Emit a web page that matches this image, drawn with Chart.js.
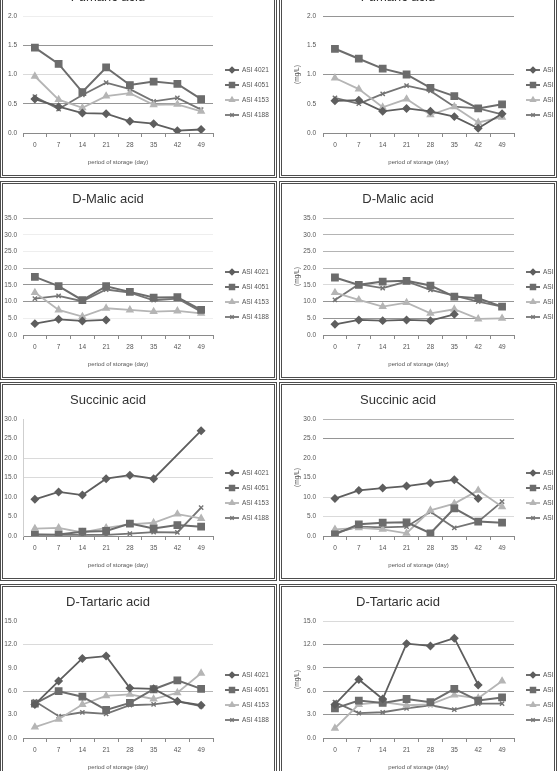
<!DOCTYPE html>
<html>
<head>
<meta charset="utf-8">
<script src="https://cdn.jsdelivr.net/npm/chart.js@4.4.1/dist/chart.umd.min.js"></script>
<style>
  html, body { margin: 0; padding: 0; background: #fff; }
  #page { position: relative; width: 557px; height: 771px; overflow: hidden; background: #fff; }
  .panel { position: absolute; border: 3px double #4d4d4d; background: #fff; overflow: hidden; }
  .panel canvas { display: block; }
</style>
</head>
<body>
<div id="page"></div>
<script>
// categories + legend
const days = ['0', '7', '14', '21', '28', '35', '42', '49'];
const strains = ['ASI 4021', 'ASI 4051', 'ASI 4153', 'ASI 4188'];

// values, one row per strain (same order as strains)
const fumaricLeft = [
  [0.58, 0.45, 0.34, 0.33, 0.20, 0.16, 0.04, 0.06],
  [1.46, 1.18, 0.70, 1.12, 0.82, 0.88, 0.84, 0.58],
  [0.97, 0.57, 0.43, 0.63, 0.68, 0.48, 0.49, 0.37],
  [0.62, 0.41, 0.65, 0.86, 0.75, 0.54, 0.60, 0.40]
];
const fumaricRight = [
  [0.55, 0.56, 0.37, 0.42, 0.37, 0.28, 0.08, 0.33],
  [1.44, 1.27, 1.10, 1.00, 0.77, 0.63, 0.42, 0.49],
  [0.94, 0.75, 0.44, 0.58, 0.31, 0.45, 0.18, 0.27],
  [0.60, 0.50, 0.67, 0.81, 0.72, 0.45, 0.42, 0.32]
];
const malicLeft = [
  [3.4, 4.7, 4.2, 4.5, null, null, null, null],
  [17.4, 14.6, 10.4, 14.6, 12.9, 11.2, 11.3, 7.5],
  [12.7, 7.5, 5.5, 8.0, 7.5, 7.0, 7.2, 6.5],
  [10.9, 11.7, 10.1, 13.6, 12.7, 10.4, 10.9, 7.0]
];
const malicRight = [
  [3.2, 4.5, 4.3, 4.5, 4.3, 6.2, null, null],
  [17.2, 15.0, 16.0, 16.2, 14.8, 11.5, 11.0, 8.5],
  [12.7, 10.5, 8.5, 9.7, 6.5, 7.7, 4.8, 5.0],
  [10.5, 15.2, 14.0, 16.0, 13.5, 11.8, 10.0, 8.5]
];
const succinicLeft = [
  [9.4, 11.3, 10.5, 14.7, 15.6, 14.7, null, 27.0],
  [0.3, 0.4, 1.1, 1.3, 3.2, 1.9, 2.8, 2.4],
  [1.9, 2.1, 0.9, 2.1, 3.0, 3.4, 5.6, 4.5],
  [0.4, 0.3, 0.3, 0.3, 0.6, 1.0, 0.9, 7.3]
];
const succinicRight = [
  [9.6, 11.7, 12.3, 12.8, 13.6, 14.4, 9.6, null],
  [0.4, 3.0, 3.4, 3.5, 0.7, 7.1, 3.7, 3.4],
  [1.7, 2.1, 1.7, 0.7, 6.6, 8.3, 11.7, 7.5],
  [0.8, 2.4, 2.2, 2.4, 6.2, 2.1, 3.7, 8.8]
];
const tartaricLeft = [
  [4.3, 7.3, 10.2, 10.5, 6.4, 6.3, 4.7, 4.2],
  [4.4, 6.0, 5.3, 3.6, 4.5, 6.25, 7.4, 6.3],
  [1.4, 2.4, 4.3, 5.4, 5.6, 5.0, 5.8, 8.3],
  [4.7, 2.8, 3.3, 3.1, 4.2, 4.3, 4.7, 4.1]
];
const tartaricRight = [
  [4.3, 7.5, 5.0, 12.1, 11.8, 12.8, 6.8, null],
  [3.8, 4.8, 4.5, 5.0, 4.6, 6.3, 4.8, 5.2],
  [1.25, 4.3, 4.6, 4.2, 4.3, 5.5, 5.1, 7.3],
  [4.6, 3.2, 3.3, 3.8, 4.2, 3.65, 4.4, 4.4]
];

// look of the four series
const seriesStyle = [
  { pointStyle: 'rectRot', color: '#5e5e5e', radius: 3.5, width: 1.8 },
  { pointStyle: 'rect', color: '#6c6c6c', radius: 4.5, width: 2 },
  { pointStyle: 'triangle', color: '#b5b5b5', radius: 3.5, width: 1.8 },
  { pointStyle: 'crossRot', color: '#747474', radius: 3, width: 1.8 }
];

const AX = '#8a8a8a', D = '#959595', M = '#b4b4b4', L = '#dadada', N = 'rgba(0,0,0,0)';

// grid colours bottom -> top (the scan makes some lines dark, some vanish)
const panels = [
  { title: 'Fumaric acid', data: fumaricLeft, max: 2, step: 0.5, col: 0, row: 0, grid: [AX, D, L, D, '#eeeeee'] },
  { title: 'Fumaric acid', data: fumaricRight, max: 2, step: 0.5, col: 1, row: 0, grid: [AX, N, D, N, D] },
  { title: 'D-Malic acid', data: malicLeft, max: 35, step: 5, col: 0, row: 1, grid: [AX, '#eeeeee', D, D, M, '#eeeeee', '#eeeeee', M] },
  { title: 'D-Malic acid', data: malicRight, max: 35, step: 5, col: 1, row: 1, grid: [AX, D, D, L, M, M, M, M] },
  { title: 'Succinic acid', data: succinicLeft, max: 30, step: 5, col: 0, row: 2, grid: [AX, N, N, L, L, N, N], yLine: '#cfcfcf', spanGaps: true },
  { title: 'Succinic acid', data: succinicRight, max: 30, step: 5, col: 1, row: 2, grid: [AX, L, L, N, N, D, M] },
  { title: 'D-Tartaric acid', data: tartaricLeft, max: 15, step: 3, col: 0, row: 3, grid: [AX, N, M, N, L, N] },
  { title: 'D-Tartaric acid', data: tartaricRight, max: 15, step: 3, col: 1, row: 3, grid: [AX, D, D, D, D, L] }
];

const cols = [{ left: 0, width: 277 }, { left: 279, width: 278 }];
const rowTops = [-21, 181, 382, 584];
const panelH = 199;

const sideLegend = {
  id: 'sideLegend',
  afterDraw(chart, args, opts) {
    const ctx = chart.ctx;
    ctx.save();
    chart.data.datasets.forEach((ds, i) => {
      const y = opts.ys[i];
      ctx.strokeStyle = ds.borderColor;
      ctx.lineWidth = ds.borderWidth;
      ctx.beginPath();
      ctx.moveTo(opts.x, y);
      ctx.lineTo(opts.x + 14, y);
      ctx.stroke();
      ctx.fillStyle = ds.pointBackgroundColor;
      ctx.strokeStyle = ds.pointBorderColor;
      ctx.lineWidth = ds.pointBorderWidth;
      if (Chart.helpers && Chart.helpers.drawPoint) {
        Chart.helpers.drawPoint(ctx, { pointStyle: ds.pointStyle, radius: ds.pointRadius * 0.8, borderWidth: ds.pointBorderWidth, rotation: 0 }, opts.x + 7, y);
      }
      ctx.fillStyle = '#555';
      ctx.font = '6.5px "Liberation Sans Narrow", "Liberation Sans", sans-serif';
      ctx.textBaseline = 'middle';
      ctx.textAlign = 'left';
      ctx.fillText(ds.label, opts.x + 17, y);
    });
    ctx.restore();
  }
};

const page = document.getElementById('page');
const smallFont = { family: '"Liberation Sans Narrow", "Liberation Sans", sans-serif', size: 6.5 };

panels.forEach(p => {
  const c = cols[p.col];
  const div = document.createElement('div');
  div.className = 'panel';
  div.style.left = c.left + 'px';
  div.style.top = rowTops[p.row] + 'px';
  div.style.width = (c.width - 6) + 'px';
  div.style.height = (panelH - 6) + 'px';
  const canvas = document.createElement('canvas');
  canvas.width = c.width - 6;
  canvas.height = panelH - 6;
  div.appendChild(canvas);
  page.appendChild(div);

  const right = p.col === 1;
  const plotLeft = right ? 41 : 20;
  const plotRight = right ? 232 : 210;

  new Chart(canvas.getContext('2d'), {
    type: 'line',
    data: {
      labels: days,
      datasets: p.data.map((vals, i) => {
        const s = seriesStyle[i];
        return {
          label: strains[i],
          data: vals,
          borderColor: s.color,
          backgroundColor: s.color,
          borderWidth: s.width,
          pointStyle: s.pointStyle,
          pointRadius: s.radius,
          pointBackgroundColor: s.color,
          pointBorderColor: s.color,
          pointBorderWidth: 1.4,
          tension: 0,
          spanGaps: !!p.spanGaps
        };
      })
    },
    options: {
      responsive: false,
      animation: false,
      layout: { padding: { left: 0, right: canvas.width - plotRight, top: 0, bottom: 0 } },
      plugins: {
        legend: { display: false },
        tooltip: { enabled: false },
        title: {
          display: true,
          text: p.title,
          color: '#333',
          font: { family: '"Liberation Sans Narrow", "Liberation Sans", sans-serif', size: 13, weight: 'normal' },
          padding: { top: 7.2, bottom: 11.2 }
        },
        sideLegend: { x: right ? 244 : 222, ys: [88, 103, 118, 133] }
      },
      scales: {
        x: {
          offset: true,
          grid: { offset: true, drawOnChartArea: false, drawTicks: true, tickLength: 4, color: AX },
          border: { display: true, color: AX, width: 1 },
          ticks: { color: '#555', font: smallFont, padding: 4, maxRotation: 0, autoSkip: false },
          title: { display: true, text: 'period of storage (day)', color: '#555', font: { family: smallFont.family, size: 6 }, padding: { top: 2, bottom: 9 } },
          afterFit(scale) { scale.height = 42; }
        },
        y: {
          min: 0,
          max: p.max,
          ticks: { stepSize: p.step, color: '#555', font: smallFont, padding: right ? 7 : 6, callback: v => Number(v).toFixed(1) },
          grid: { drawTicks: false, color: ctx => p.grid[ctx.index] || N, lineWidth: 1 },
          border: { display: !!p.yLine, color: p.yLine || N },
          title: { display: right, text: '(mg/L)', color: '#555', font: smallFont, padding: { top: 11, bottom: 0 } },
          afterFit(scale) { scale.width = plotLeft; }
        }
      }
    },
    plugins: [sideLegend]
  });
});
</script>
</body>
</html>
